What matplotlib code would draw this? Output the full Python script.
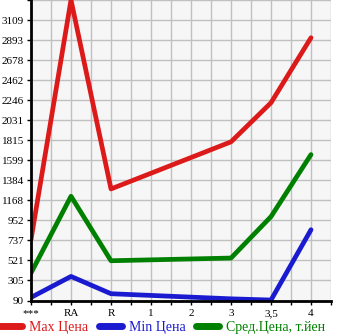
import numpy as np
import matplotlib
matplotlib.use("Agg")
import matplotlib.pyplot as plt

categories = ["***", "RA", "R", "1", "2", "3", "3,5", "4"]
max_price = [745, 3325, 1291, None, None, 1798, 2219, 2919]
min_price = [123, 349, 163, None, None, 108, 95, 852]
avg_price = [386, 1212, 518, None, None, 547, 993, 1661]
y_ticks = [90, 305, 521, 737, 952, 1168, 1384, 1599, 1815, 2031, 2246, 2462, 2678, 2893, 3109]
y_top = 3325

series = [
    ("Max Цена", max_price, "#dc1a1a"),
    ("Min Цена", min_price, "#1a1ad0"),
    ("Сред.Цена, т.йен", avg_price, "#008000"),
]

plt.rcParams['font.family'] = ['Liberation Serif', 'DejaVu Serif']

fig = plt.figure(figsize=(3.45, 3.35), dpi=100)
ax = fig.add_axes([31/345, 34.5/335, 300/345, 300.5/335])
ax.set_facecolor("#f6f6f6")

for name, vals, col in series:
    xs = [i for i, v in enumerate(vals) if v is not None]
    ys = [v for v in vals if v is not None]
    ax.plot(xs, ys, color=col, lw=3.4, label=name, solid_capstyle="round")

ax.set_xlim(0, 7.5)
ax.set_ylim(90, y_top)

step = (y_top - 90) / 15
ax.set_yticks([90 + i * step for i in range(15)])
ax.set_yticklabels([str(v) for v in y_ticks])
ax.set_yticks([90 + i * step for i in range(16)], minor=True)
ax.set_xticks(range(len(categories)))
ax.set_xticklabels(categories)
ax.set_xticks(np.arange(0, 7.51, 0.5), minor=True)

ax.grid(True, which="both", color="#c0c0c0", lw=1)
ax.set_axisbelow(True)
ax.tick_params(which="both", length=3, width=1, color="black", labelsize=8, pad=2)
ax.tick_params(axis="x", which="major", length=3, pad=3)

for s in ["top", "right"]:
    ax.spines[s].set_visible(False)
for s in ["left", "bottom"]:
    ax.spines[s].set_linewidth(2)

leg = fig.legend(loc="center left", bbox_to_anchor=(0.0, 8/335), ncol=3, frameon=False,
                 fontsize=10, handlelength=1.6, handletextpad=0.5, columnspacing=0.8,
                 borderpad=0, borderaxespad=0)
for line, text in zip(leg.get_lines(), leg.get_texts()):
    line.set_linewidth(5)
    text.set_color(line.get_color())

fig.savefig("out.png", dpi=100)
